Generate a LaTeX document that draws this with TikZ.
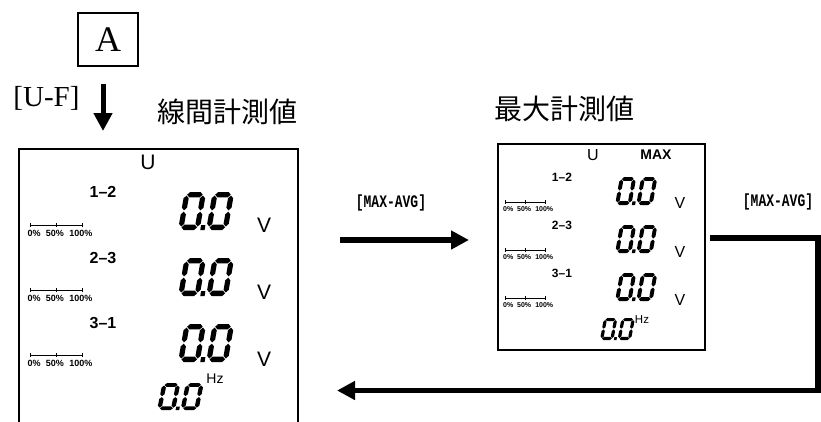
\documentclass[tikz,border=0pt]{standalone}
\usepackage{fontspec}
\usepackage{graphicx}
\setmainfont{Liberation Serif}
\newfontfamily\sansf{Liberation Sans}
\newfontfamily\monof{Liberation Mono}
\newfontfamily\cjkf{Noto Sans CJK JP}
\usetikzlibrary{arrows.meta}
\newcommand\fs[1]{\fontsize{#1}{#1}\selectfont}
\tikzset{
  frame/.style={line width=2pt},
  boxa/.style={draw, line width=1.5pt, minimum width=60pt, minimum height=53pt, inner sep=0pt, font=\fs{36}},
  bigarrow/.style={line width=#1, line join=miter, -{Triangle[length=18pt,width=18pt]}},
  bigarrow/.default=6pt,
  txt/.style={inner sep=0pt},
  lcd/.style={inner sep=0pt, font=\sansf\fs{#1}},
  lcdb/.style={inner sep=0pt, font=\sansf\bfseries\fs{#1}},
  mlbl/.style={inner sep=0pt},
  pics/pbar/.style n args={2}{code={
    \draw[line width=0.9pt] (0,0) -- (#1,0);
    \foreach \t in {0,0.5,1} \draw[line width=0.9pt] (\t*#1,-2) -- (\t*#1,1.5);
    \node[lcdb=#2, anchor=north] (-a) at (0.08*#1,0.1*#1) {0\%};
    \node[lcdb=#2, anchor=north] (-b) at (0.48*#1,0.1*#1) {50\%};
    \node[lcdb=#2, anchor=north] (-c) at (0.98*#1,0.1*#1) {100\%};
  }},
  pics/zz/.style={code={
    \begin{scope}[xslant=0.18]
      \foreach \ox in {0,1.3}{
        \foreach \yy in {0,1.46}
          \fill (\ox+0.14,\yy+0.12) -- (\ox+0.26,\yy) -- (\ox+0.74,\yy) -- (\ox+0.86,\yy+0.12) -- (\ox+0.74,\yy+0.24) -- (\ox+0.26,\yy+0.24) -- cycle;
        \foreach \xx/\yy in {0/0.16, 0/0.88, 0.76/0.16, 0.76/0.88}
          \fill (\ox+\xx+0.12,\yy) -- (\ox+\xx+0.24,\yy+0.12) -- (\ox+\xx+0.24,\yy+0.54) -- (\ox+\xx+0.12,\yy+0.66) -- (\ox+\xx,\yy+0.54) -- (\ox+\xx,\yy+0.12) -- cycle;
      }
      \fill (1.03,1.48) rectangle (1.23,1.7);
    \end{scope}
  }}
}
\begin{document}
\begin{tikzpicture}[x=1pt,y=-1pt]
\useasboundingbox (0,0) rectangle (821,421);

% box A and label
\node[boxa] (A) at (108,39.5) {A};
\node[txt, font=\fs{29}] (uf) at (46.5,98) {[U-F]};
\node[txt, font=\cjkf\fs{28}] (t1) at (227,111.5) {線間計測値};
\node[txt, font=\cjkf\fs{28}] (t2) at (564,109) {最大計測値};

% left panel (open at bottom)
\coordinate (Lbl) at (19,424);
\coordinate (Ltl) at (19,149);
\coordinate (Ltr) at (298,149);
\coordinate (Lbr) at (298,424);
\draw[frame] (Lbl) -- (Ltl) -- (Ltr) -- (Lbr);
\coordinate (Ltop) at (103,149);
\coordinate (Lr) at (298,240);

% right panel
\node[draw, frame, minimum width=207pt, minimum height=206pt, inner sep=0pt] (R) at (601.5,247) {};

% arrows
\draw[bigarrow=5pt, shorten <=17pt, shorten >=18pt] (A.south -| Ltop) -- (Ltop);
\draw[bigarrow=6pt, shorten <=42pt, shorten >=28pt] (Lr) -- (R.west |- Lr);
\coordinate (c0) at (705,238);
\coordinate (c1) at (818,238);
\coordinate (c2) at (818,390.5);
\coordinate (c3) at (337,390.5);
\draw[bigarrow=5.5pt, shorten <=5pt] (c0) -- (c1) -- (c2) -- (c3);
\node[mlbl] (m1) at (391,203) {\scalebox{1}[1.35]{\monof\bfseries\fs{13}[MAX-AVG]}};
\node[mlbl] (m2) at (778,202) {\scalebox{1}[1.35]{\monof\bfseries\fs{13}[MAX-AVG]}};

% left panel content
\node[lcd=21] (lu) at (148,162) {U};
\node[lcdb=16] (l12) at (103,192) {1–2};
\node[lcdb=16] (l23) at (103,258) {2–3};
\node[lcdb=16] (l31) at (103,323) {3–1};
\pic[xscale=21.6,yscale=22.4] (ld1) at (184.6,192) {zz};
\pic[xscale=21.6,yscale=22.4] (ld2) at (184.6,258) {zz};
\pic[xscale=21.6,yscale=22.4] (ld3) at (184.6,324) {zz};
\node[lcd=21] (lv1) at (264,225) {V};
\node[lcd=21] (lv2) at (264,292) {V};
\node[lcd=21] (lv3) at (264,359) {V};
\pic (lb1) at (30,225) {pbar={52}{9}};
\pic (lb2) at (30,290) {pbar={52}{9}};
\pic (lb3) at (30,355) {pbar={52}{9}};
\pic[xscale=18,yscale=16] (lhz) at (162.5,383) {zz};
\node[lcd=14] (lhzt) at (215,379) {Hz};

% right panel content
\node[lcd=16] (ru) at (593,155) {U};
\node[lcdb=14] (rmax) at (656,155) {MAX};
\node[lcdb=12] (r12) at (562,177) {1–2};
\node[lcdb=12] (r23) at (562,225) {2–3};
\node[lcdb=12] (r31) at (562,273) {3–1};
\pic[xscale=16.3,yscale=16.5] (rd1) at (620,177) {zz};
\pic[xscale=16.3,yscale=16.5] (rd2) at (620,225) {zz};
\pic[xscale=16.3,yscale=16.5] (rd3) at (620,273) {zz};
\node[lcd=16] (rv1) at (680,203) {V};
\node[lcd=16] (rv2) at (680,252) {V};
\node[lcd=16] (rv3) at (680,300) {V};
\pic (rb1) at (505,202) {pbar={40}{7}};
\pic (rb2) at (505,250) {pbar={40}{7}};
\pic (rb3) at (505,298) {pbar={40}{7}};
\pic[xscale=13.5,yscale=13] (rhz) at (604,318) {zz};
\node[lcd=11.5] (rhzt) at (642,320) {Hz};
\end{tikzpicture}
\end{document}
